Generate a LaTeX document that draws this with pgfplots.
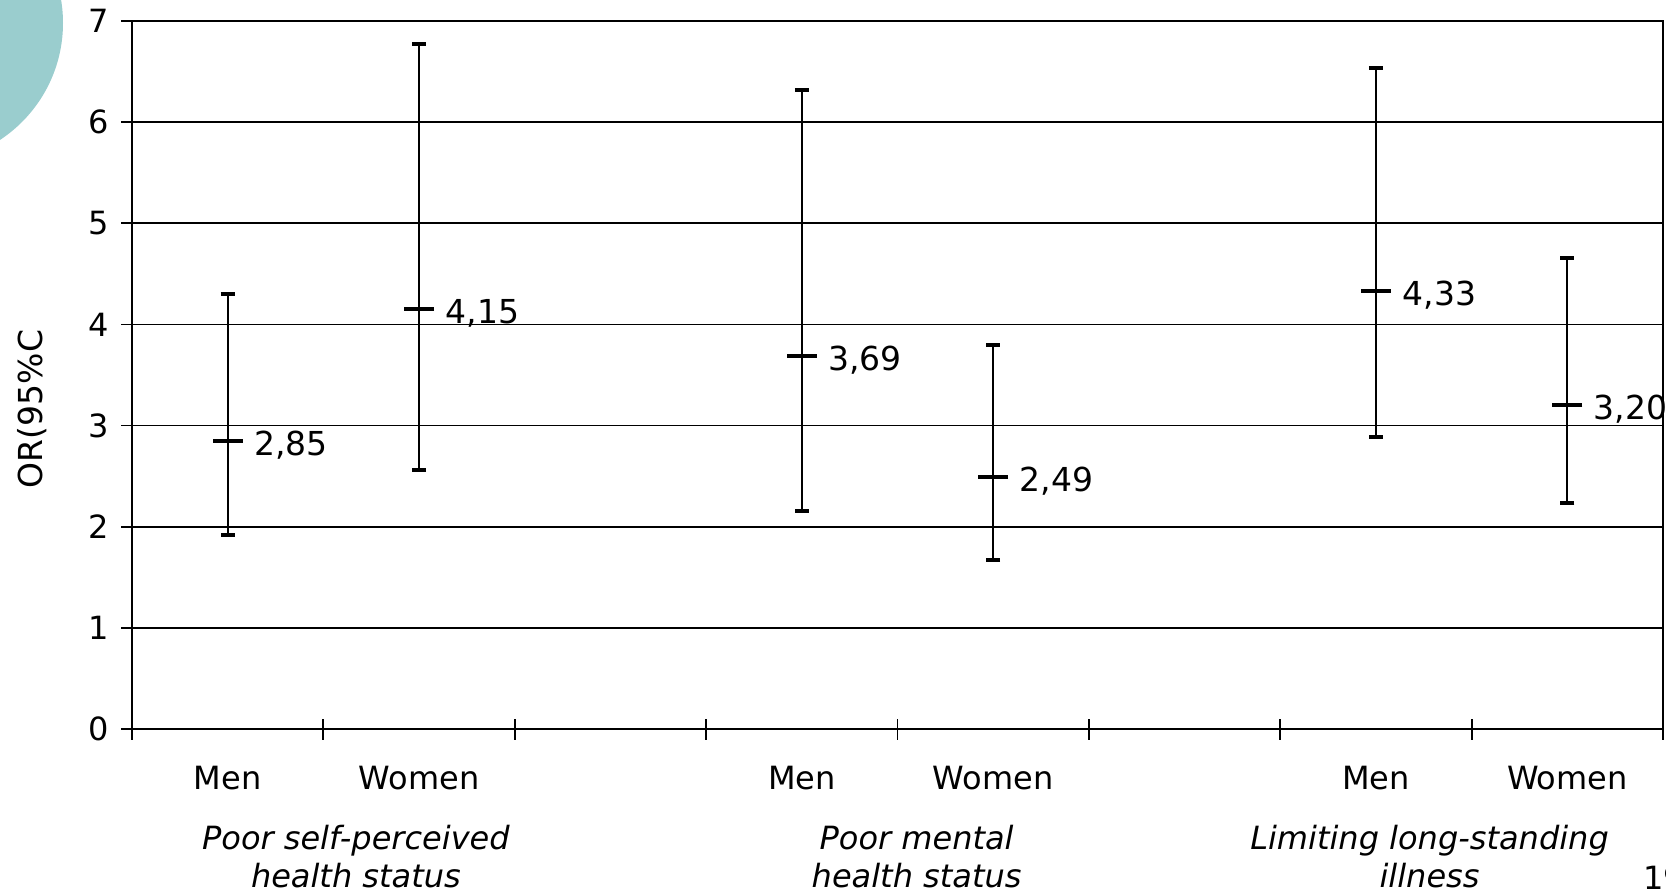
\documentclass[border=0pt]{standalone}
\usepackage{pgfplots}
\usepackage{pgfplotstable}
\pgfplotsset{compat=1.18}
\usepackage{fontspec}
\setmainfont{DejaVu Sans}
\definecolor{slideteal}{RGB}{154,205,206}

\pgfplotstableread{
x y ep em lab
0.5 2.85 1.45 0.93 {2,85}
1.5 4.15 2.62 1.59 {4,15}
3.5 3.69 2.63 1.53 {3,69}
4.5 2.49 1.31 0.82 {2,49}
6.5 4.33 2.21 1.44 {4,33}
7.5 3.20 1.46 0.97 {3,20}
}\ortable

\begin{document}
\begin{tikzpicture}
\fill[slideteal] (-38.5pt,434pt) circle (70pt);
\begin{axis}[
  at={(66pt,81pt)}, anchor=south west,
  scale only axis, width=765.5pt, height=354pt,
  xmin=0, xmax=8, ymin=0, ymax=7,
  clip=false,
  xtick={0,...,8}, xticklabels={},
  ytick={0,...,7},
  xtick pos=bottom, ytick pos=left,
  ymajorgrids,
  grid style={black, line width=0.9pt},
  axis line style={line width=1.3pt},
  tick style={black, line width=0.9pt},
  tick align=center,
  major tick length=10.5pt,
  tick label style={font=\fontsize{16}{19}\selectfont},
  /pgf/number format/assume math mode=true,
  yticklabel style={xshift=-3pt},
  extra x ticks={0.5,1.5,3.5,4.5,6.5,7.5},
  extra x tick labels={Men,Women,Men,Women,Men,Women},
  extra x tick style={tick style={draw=none},
    xticklabel style={anchor=center, yshift=-19.5pt, font=\fontsize{16}{19}\selectfont}},
  ylabel={OR(95\%C},
  every axis y label/.append style={at={(axis description cs:-0.0653,0.452)}, anchor=center, font=\fontsize{16.5}{19}\selectfont},
]
\addplot[black, only marks, mark=-, mark size=7.5pt, mark options={line width=2pt},
  point meta=explicit symbolic,
  nodes near coords,
  every node near coord/.append style={anchor=west, xshift=9pt, yshift=-2pt, font=\fontsize{16.5}{19}\selectfont, black},
  error bars/.cd, y dir=both, y explicit,
  error mark=|,
  error mark options={line width=2pt, mark size=3.5pt, black},
  error bar style={line width=0.9pt, black}]
  table[x=x, y=y, y error plus=ep, y error minus=em, meta=lab] {\ortable};

\node[font=\itshape\fontsize{16}{19}\selectfont, align=center, anchor=center]
  at (axis cs:1.17,0) [yshift=-64pt] {Poor self-perceived\\health status};
\node[font=\itshape\fontsize{16}{19}\selectfont, align=center, anchor=center]
  at (axis cs:4.10,0) [yshift=-64pt] {Poor mental\\health status};
\node[font=\itshape\fontsize{16}{19}\selectfont, align=center, anchor=center]
  at (axis cs:6.78,0) [yshift=-64pt] {Limiting long-standing\\illness};
\end{axis}
\node[anchor=south west, inner sep=0pt, font=\fontsize{16}{19}\selectfont] at (821.5pt,0.5pt) {19};
\pgfresetboundingbox
\path[use as bounding box] (0,0) rectangle (833pt,445.5pt);
\end{tikzpicture}
\end{document}
